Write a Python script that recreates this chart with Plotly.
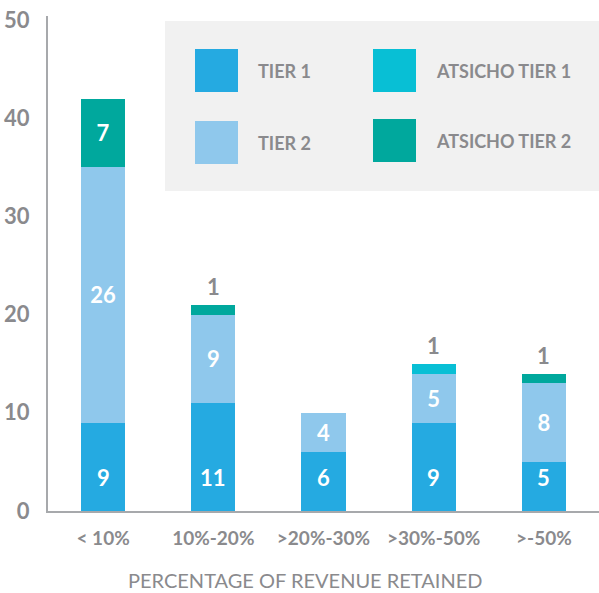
import plotly.graph_objects as go

categories = ["< 10%", "10%-20%", ">20%-30%", ">30%-50%", ">-50%"]
tier1 = [9, 11, 6, 9, 5]
tier2 = [26, 9, 4, 5, 8]
atsicho_tier1 = [0, 0, 0, 1, 0]
atsicho_tier2 = [7, 1, 0, 0, 1]
series_names = ["TIER 1", "TIER 2", "ATSICHO TIER 1", "ATSICHO TIER 2"]
y_ticks = [0, 10, 20, 30, 40, 50]

colors = ["#25aae1", "#8fc8ec", "#08bfd5", "#00a89d"]
gray = "#8a8a8d"
FONT = "Lato"
TIER1_LABEL_Y = 3.4

series = [tier1, tier2, atsicho_tier1, atsicho_tier2]

fig = go.Figure()
for k, (name, vals, col) in enumerate(zip(series_names, series, colors)):
    txt = [str(v) if (v > 1 and k > 0) else "" for v in vals]
    fig.add_trace(go.Bar(
        x=categories, y=vals, name=name, marker=dict(color=col, line=dict(width=0)),
        text=txt, textposition="inside", insidetextanchor="middle",
        textangle=0, constraintext="none",
        textfont=dict(family=FONT, size=22, color="white", weight="bold"),
        hoverinfo="skip", showlegend=False,
    ))

# tier 1 labels sit at a common height near the bar base
for cat, v in zip(categories, tier1):
    fig.add_annotation(x=cat, y=TIER1_LABEL_Y, text=str(v), showarrow=False,
                       xref="x", yref="y", yanchor="middle",
                       font=dict(family=FONT, size=22, color="white", weight="bold"))

# small value labels above bars
totals = [sum(s[i] for s in series) for i in range(len(categories))]
for i, cat in enumerate(categories):
    small = [s[i] for s in series[2:] if s[i] == 1]
    if small:
        fig.add_annotation(x=cat, y=totals[i], text="1", showarrow=False,
                           yanchor="bottom", yshift=3, xref="x", yref="y",
                           font=dict(family=FONT, size=22, color=gray, weight="bold"))

# legend box
H = 593 - 82 - 16
W = 599 - 48
def px_x(p):
    return (p - 48) / W
def px_y(p):
    return (511 - p) / H

shapes = [dict(type="rect", xref="paper", yref="paper", x0=px_x(165), x1=px_x(599),
               y0=px_y(191), y1=px_y(21), fillcolor="#f1f1f1", line=dict(width=0), layer="below")]
legend_pos = [(195, 49), (195, 121), (373, 49), (373, 119)]
for (lx, ly), col, name in zip(legend_pos, colors, series_names):
    shapes.append(dict(type="rect", xref="paper", yref="paper", x0=px_x(lx), x1=px_x(lx + 43),
                       y0=px_y(ly + 43), y1=px_y(ly), fillcolor=col, line=dict(width=0)))
    fig.add_annotation(xref="paper", yref="paper", x=px_x(lx + 61), y=px_y(ly + 22),
                       xanchor="left", yanchor="middle", showarrow=False, text=name,
                       font=dict(family=FONT, size=18, color=gray, weight="bold"))

fig.add_annotation(xref="paper", yref="paper", x=px_x(305), y=px_y(580), xanchor="center",
                   yanchor="middle", showarrow=False, text="PERCENTAGE OF REVENUE RETAINED",
                   font=dict(family=FONT, size=20, color=gray))

fig.update_layout(
    width=599, height=593, margin=dict(l=48, r=0, t=16, b=82),
    barmode="stack", bargap=0.6, paper_bgcolor="white", plot_bgcolor="white",
    shapes=shapes, showlegend=False,
    xaxis=dict(showline=True, linecolor="#a7a9ac", linewidth=2, showgrid=False,
               ticks="", ticklabelstandoff=9,
               tickfont=dict(family=FONT, size=19, color=gray, weight="bold")),
    yaxis=dict(range=[0, 50.4], tickvals=y_ticks, showline=True, linecolor="#a7a9ac",
               linewidth=2, showgrid=False, zeroline=False, ticks="", ticklabelstandoff=12,
               tickfont=dict(family=FONT, size=22, color=gray, weight="bold")),
)

fig.write_html("out.html")
